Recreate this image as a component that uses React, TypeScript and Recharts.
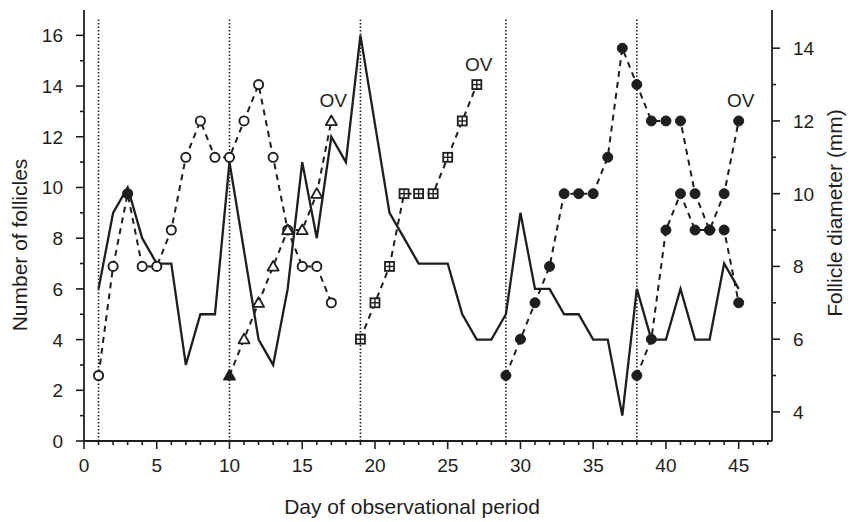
import { ComposedChart, Line, XAxis, YAxis, ReferenceLine } from "recharts";

// solid line: number of follicles (left axis); days 11 and 20 were not read
const countDays = [1, 2, 3, 4, 5, 6, 7, 8, 9, 10, 12, 13, 14, 15, 16, 17, 18, 19, 21, 22, 23, 24, 25, 26, 27, 28, 29, 30, 31, 32, 33, 34, 35, 36, 37, 38, 39, 40, 41, 42, 43, 44, 45];
const countVals = [6, 9, 10, 8, 7, 7, 3, 5, 5, 11, 4, 3, 6, 11, 8, 12, 11, 16, 9, 8, 7, 7, 7, 5, 4, 4, 5, 9, 6, 6, 5, 5, 4, 4, 1, 6, 4, 4, 6, 4, 4, 7, 6];

// follicle diameters (mm, right axis)
const circleDays = [1, 2, 3, 4, 5, 6, 7, 8, 9, 10, 11, 12, 13, 14, 15, 16, 17];
const circleVals = [5, 8, 10, 8, 8, 9, 11, 12, 11, 11, 12, 13, 11, 9, 8, 8, 7];
const triangleDays = [10, 11, 12, 13, 14, 15, 16, 17];
const triangleVals = [5, 6, 7, 8, 9, 9, 10, 12];
const squareDays = [19, 20, 21, 22, 23, 24, 25, 26, 27];
const squareVals = [6, 7, 8, 10, 10, 10, 11, 12, 13];
const dotADays = [29, 30, 31, 32, 33, 34, 35, 36, 37, 38, 39, 40, 41, 42, 43, 44, 45];
const dotAVals = [5, 6, 7, 8, 10, 10, 10, 11, 14, 13, 12, 12, 12, 10, 9, 10, 12];
const dotBDays = [38, 39, 40, 41, 42, 43, 44, 45];
const dotBVals = [5, 6, 9, 10, 9, 9, 9, 7];

const filledCircleDays = [3];
const filledTriangleDays = [10];
const ovDays = [17, 27, 45];
const cycleStartDays = [1, 10, 19, 29, 38];
const cycleLineTop = 16.7;

const xTicks = [0, 1, 2, 3, 4, 5, 6, 7, 8, 9, 10, 11, 12, 13, 14, 15, 16, 17, 18, 19, 20, 21, 22, 23, 24, 25, 26, 27, 28, 29, 30, 31, 32, 33, 34, 35, 36, 37, 38, 39, 40, 41, 42, 43, 44, 45, 46, 47];
const leftTicks = [0, 1, 2, 3, 4, 5, 6, 7, 8, 9, 10, 11, 12, 13, 14, 15, 16];
const rightTicks = [4, 5, 6, 7, 8, 9, 10, 11, 12, 13, 14];

const INK = "#1e1e1e";
const FONT = "'Liberation Sans', Arial, Helvetica, sans-serif";

function pick(days: number[], vals: number[], d: number) {
  const i = days.indexOf(d);
  return i < 0 ? null : vals[i];
}

const allDays = Array.from(
  new Set([...countDays, ...circleDays, ...triangleDays, ...squareDays, ...dotADays, ...dotBDays])
).sort((a, b) => a - b);

const rows = allDays.map((day) => ({
  day,
  count: pick(countDays, countVals, day),
  circle: pick(circleDays, circleVals, day),
  triangle: pick(triangleDays, triangleVals, day),
  square: pick(squareDays, squareVals, day),
  dotA: pick(dotADays, dotAVals, day),
  dotB: pick(dotBDays, dotBVals, day),
}));

const XTick = (p: any) => {
  const v = p.payload.value;
  const major = v % 5 === 0;
  return (
    <g>
      <line x1={p.x} x2={p.x} y1={p.y} y2={p.y + (major ? 8 : 4)} stroke={INK} strokeWidth={1.6} />
      {major && (
        <text x={p.x} y={p.y + 31} textAnchor="middle" fontSize={19} fill={INK} fontFamily={FONT}>
          {v}
        </text>
      )}
    </g>
  );
};

const LeftTick = (p: any) => {
  const v = p.payload.value;
  const major = v % 2 === 0;
  return (
    <g>
      <line x1={p.x} x2={p.x - (major ? 8 : 4)} y1={p.y} y2={p.y} stroke={INK} strokeWidth={1.6} />
      {major && (
        <text x={p.x - 21} y={p.y + 7} textAnchor="end" fontSize={19} fill={INK} fontFamily={FONT}>
          {v}
        </text>
      )}
    </g>
  );
};

const RightTick = (p: any) => {
  const v = p.payload.value;
  const major = v % 2 === 0;
  return (
    <g>
      <line x1={p.x} x2={p.x + (major ? 8 : 4)} y1={p.y} y2={p.y} stroke={INK} strokeWidth={1.6} />
      {major && (
        <text x={p.x + 21} y={p.y + 7} textAnchor="start" fontSize={19} fill={INK} fontFamily={FONT}>
          {v}
        </text>
      )}
    </g>
  );
};

const CircleDot = (p: any) => {
  if (p.cx == null || p.cy == null || p.value == null) return <g key={p.key} />;
  const filled = filledCircleDays.includes(p.payload.day);
  return <circle key={p.key} cx={p.cx} cy={p.cy} r={4.6} fill={filled ? INK : "#fff"} stroke={INK} strokeWidth={1.9} />;
};

const TriangleDot = (p: any) => {
  if (p.cx == null || p.cy == null || p.value == null) return <g key={p.key} />;
  const filled = filledTriangleDays.includes(p.payload.day);
  const s = 5.5;
  const d = `M${p.cx},${p.cy - s} L${p.cx + s},${p.cy + s * 0.75} L${p.cx - s},${p.cy + s * 0.75} Z`;
  return <path key={p.key} d={d} fill={filled ? INK : "#fff"} stroke={INK} strokeWidth={1.8} strokeLinejoin="round" />;
};

const SquareDot = (p: any) => {
  if (p.cx == null || p.cy == null || p.value == null) return <g key={p.key} />;
  const s = 4.5;
  return (
    <g key={p.key}>
      <rect x={p.cx - s} y={p.cy - s} width={2 * s} height={2 * s} fill="#fff" stroke={INK} strokeWidth={1.8} />
      <line x1={p.cx - s} x2={p.cx + s} y1={p.cy} y2={p.cy} stroke={INK} strokeWidth={1.4} />
      <line x1={p.cx} x2={p.cx} y1={p.cy - s} y2={p.cy + s} stroke={INK} strokeWidth={1.4} />
    </g>
  );
};

const FilledDot = (p: any) => {
  if (p.cx == null || p.cy == null || p.value == null) return <g key={p.key} />;
  return <circle key={p.key} cx={p.cx} cy={p.cy} r={5} fill={INK} stroke={INK} strokeWidth={1} />;
};

const OvLabel = (p: any) => {
  const row = rows[p.index];
  if (!row || !ovDays.includes(row.day) || p.value == null) return <g />;
  return (
    <text x={p.x + 2} y={p.y - 14} textAnchor="middle" fontSize={19} fill={INK} fontFamily={FONT}>
      OV
    </text>
  );
};

export default function App() {
  return (
    <div style={{ position: "absolute", left: 0, top: 0, width: 850, height: 522, background: "#fff" }}>
      <ComposedChart
        width={850}
        height={522}
        data={rows}
        margin={{ top: 10, right: 0, bottom: 0, left: 0 }}
        style={{ fontFamily: FONT }}
      >
        <XAxis
          dataKey="day"
          type="number"
          domain={[0, 47.29]}
          ticks={xTicks}
          interval={0}
          height={81}
          tickSize={0}
          tickMargin={0}
          tickLine={false}
          tick={<XTick />}
          axisLine={{ stroke: INK, strokeWidth: 1.8 }}
          allowDataOverflow
          label={{
            content: () => (
              <text x={412} y={514} textAnchor="middle" fontSize={21} fill={INK} fontFamily={FONT}>
                Day of observational period
              </text>
            ),
          }}
        />
        <YAxis
          yAxisId="count"
          orientation="left"
          type="number"
          domain={[0, 17]}
          ticks={leftTicks}
          interval={0}
          width={84}
          tickSize={0}
          tickMargin={0}
          tickLine={false}
          tick={<LeftTick />}
          axisLine={{ stroke: INK, strokeWidth: 1.8 }}
          allowDataOverflow
          label={{
            content: () => (
              <text
                x={0}
                y={0}
                transform="translate(27 245) rotate(-90)"
                textAnchor="middle"
                fontSize={21}
                fill={INK}
                fontFamily={FONT}
              >
                Number of follicles
              </text>
            ),
          }}
        />
        <YAxis
          yAxisId="mm"
          orientation="right"
          type="number"
          domain={[3.2, 15.05]}
          ticks={rightTicks}
          interval={0}
          width={78}
          tickSize={0}
          tickMargin={0}
          tickLine={false}
          tick={<RightTick />}
          axisLine={{ stroke: INK, strokeWidth: 1.8 }}
          allowDataOverflow
          label={{
            content: () => (
              <text
                x={0}
                y={0}
                transform="translate(842 213) rotate(-90)"
                textAnchor="middle"
                fontSize={21}
                fill={INK}
                fontFamily={FONT}
              >
                Follicle diameter (mm)
              </text>
            ),
          }}
        />
        {cycleStartDays.map((d) => (
          <ReferenceLine
            key={d}
            yAxisId="count"
            segment={[
              { x: d, y: 0 },
              { x: d, y: cycleLineTop },
            ]}
            stroke={INK}
            strokeWidth={1.6}
            strokeDasharray="1.5 2"
          />
        ))}
        <Line
          yAxisId="count"
          dataKey="count"
          type="linear"
          stroke={INK}
          strokeWidth={2.3}
          dot={false}
          connectNulls
          isAnimationActive={false}
        />
        <Line
          yAxisId="mm"
          dataKey="circle"
          type="linear"
          stroke={INK}
          strokeWidth={2}
          strokeDasharray="6 5"
          dot={CircleDot}
          connectNulls
          isAnimationActive={false}
        />
        <Line
          yAxisId="mm"
          dataKey="triangle"
          type="linear"
          stroke={INK}
          strokeWidth={2}
          strokeDasharray="6 5"
          dot={TriangleDot}
          label={OvLabel}
          connectNulls
          isAnimationActive={false}
        />
        <Line
          yAxisId="mm"
          dataKey="square"
          type="linear"
          stroke={INK}
          strokeWidth={2}
          strokeDasharray="6 5"
          dot={SquareDot}
          label={OvLabel}
          connectNulls
          isAnimationActive={false}
        />
        <Line
          yAxisId="mm"
          dataKey="dotB"
          type="linear"
          stroke={INK}
          strokeWidth={2}
          strokeDasharray="6 5"
          dot={FilledDot}
          connectNulls
          isAnimationActive={false}
        />
        <Line
          yAxisId="mm"
          dataKey="dotA"
          type="linear"
          stroke={INK}
          strokeWidth={2}
          strokeDasharray="6 5"
          dot={FilledDot}
          label={OvLabel}
          connectNulls
          isAnimationActive={false}
        />
      </ComposedChart>
    </div>
  );
}
